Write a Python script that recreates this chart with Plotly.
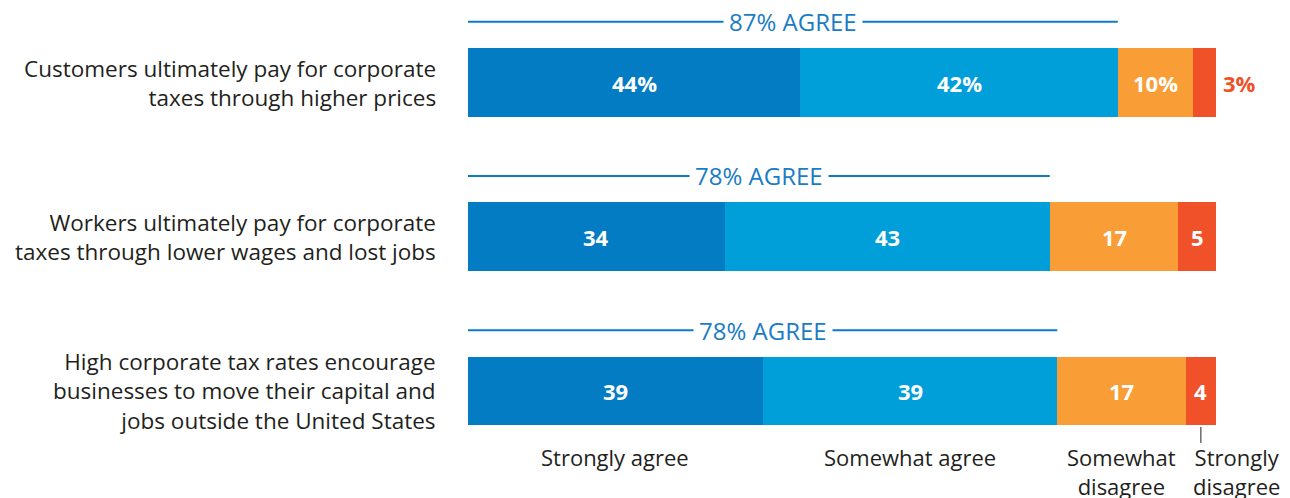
import plotly.graph_objects as go

# Survey statements (top to bottom)
statements = [
    "Customers ultimately pay for corporate<br>taxes through higher prices",
    "Workers ultimately pay for corporate<br>taxes through lower wages and lost jobs",
    "High corporate tax rates encourage<br>businesses to move their capital and<br>jobs outside the United States",
]

# Response shares, one list per answer option
strongly_agree = [44, 34, 39]
somewhat_agree = [42, 43, 39]
somewhat_disagree = [10, 17, 17]
strongly_disagree = [3, 5, 4]

# Total agreement as reported above each bar
agree_totals = [87, 78, 78]

series_names = ["Strongly agree", "Somewhat agree", "Somewhat<br>disagree", "Strongly<br>disagree"]
series_values = [strongly_agree, somewhat_agree, somewhat_disagree, strongly_disagree]
series_colors = ["#037cc4", "#009fda", "#f99d36", "#f05129"]

BLUE_TEXT = "#1a7cc4"
DARK = "#231f20"
FONT = "Open Sans"

rows = list(range(len(statements)))
bar_width = 0.447

fig = go.Figure()
for name, vals, col in zip(series_names, series_values, series_colors):
    fig.add_trace(go.Bar(
        y=rows, x=vals, orientation="h", name=name.replace("<br>", " "),
        marker=dict(color=col, line=dict(width=0)),
        width=bar_width, hoverinfo="skip",
    ))

annotations = []
shapes = []

# Segment value labels
for r in rows:
    start = 0
    for s, vals in enumerate(series_values):
        v = vals[r]
        label = f"{v}%" if r == 0 else f"{v}"
        if r == 0 and s == len(series_values) - 1:
            # narrow last segment: label sits outside, in segment colour
            annotations.append(dict(
                x=start + v, y=r, xref="x", yref="y", text=f"<b>{label}</b>",
                showarrow=False, xanchor="left", xshift=5,
                font=dict(family=FONT, size=22, color=series_colors[s]),
            ))
        else:
            annotations.append(dict(
                x=start + v / 2, y=r, xref="x", yref="y", text=f"<b>{label}</b>",
                showarrow=False, font=dict(family=FONT, size=22, color="white"),
            ))
        start += v

# Agreement brackets above each bar
for r in rows:
    agree_end = strongly_agree[r] + somewhat_agree[r]
    yline = r - 0.394
    shapes.append(dict(
        type="line", xref="x", yref="y", x0=-0.1, x1=agree_end, y0=yline, y1=yline,
        line=dict(color="#0a7cc4", width=2),
    ))
    annotations.append(dict(
        x=agree_end / 2, y=yline, xref="x", yref="y",
        text=f"{agree_totals[r]}% AGREE", showarrow=False,
        bgcolor="white", borderpad=5,
        font=dict(family=FONT, size=24, color=BLUE_TEXT),
    ))

# Statement labels on the left
for r, txt in zip(rows, statements):
    annotations.append(dict(
        x=0, y=r, xref="paper", yref="y", text=txt, showarrow=False,
        xanchor="right", align="right", xshift=-30,
        font=dict(family=FONT, size=22.5, color=DARK),
    ))

# Legend-style labels under the last bar
last = rows[-1]
start = 0
for s, (name, vals) in enumerate(zip(series_names, series_values)):
    v = vals[last]
    center = start + v / 2
    shift = 36 if s == len(series_values) - 1 else 0
    annotations.append(dict(
        x=center, y=last + 0.447, xref="x", yref="y", text=name,
        showarrow=False, yanchor="top", xshift=shift, yshift=20,
        font=dict(family=FONT, size=22, color=DARK),
    ))
    if s == len(series_values) - 1:
        shapes.append(dict(
            type="line", xref="x", yref="y", x0=center, x1=center,
            y0=last + 0.233, y1=last + 0.337,
            line=dict(color=DARK, width=1),
        ))
    start += v

total = sum(v[0] for v in series_values)
fig.update_layout(
    barmode="stack",
    width=1290, height=498,
    margin=dict(l=468, r=74, t=0, b=0),
    paper_bgcolor="white", plot_bgcolor="white",
    showlegend=False,
    xaxis=dict(range=[0, total], visible=False, fixedrange=True),
    yaxis=dict(range=[2.694, -0.535], visible=False, fixedrange=True),
    annotations=annotations,
    shapes=shapes,
)

fig.write_html("out.html")
